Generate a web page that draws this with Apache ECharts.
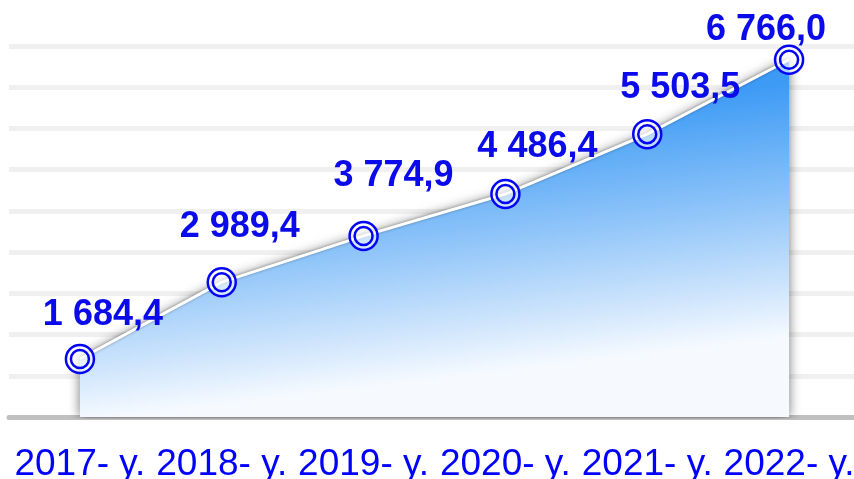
<!DOCTYPE html>
<html>
<head>
<meta charset="utf-8">
<script src="https://cdn.jsdelivr.net/npm/echarts@6/dist/echarts.min.js"></script>
<style>
  html, body { margin: 0; padding: 0; background: #fff; }
  #chart { width: 854px; height: 479px; }
</style>
</head>
<body>
<div id="chart"></div>
<script>
// categories and values
var years = ['2017- y.', '2018- y.', '2019- y.', '2020- y.', '2021- y.', '2022- y.']
var values = [1684.4, 2989.4, 3774.9, 4486.4, 5503.5, 6766.0]
var labelTexts = ['1 684,4', '2 989,4', '3 774,9', '4 486,4', '5 503,5', '6 766,0']

// label nudges [dx, dy] relative to each marker
var labelShift = [[23, -11], [18, -22], [30, -27], [32, -14], [33, -13], [-23, 4]]

var ringSymbol = 'path://M1,15a14,14 0 1,0 28,0a14,14 0 1,0 -28,0zM6,15a9,9 0 1,0 18,0a9,9 0 1,0 -18,0z'

var chart = echarts.init(document.getElementById('chart'))
chart.setOption({
  animation: false,
  grid: { left: 9, right: -6, top: 46, bottom: 62, outerBoundsMode: 'none', containLabel: false },
  xAxis: {
    type: 'category',
    data: years,
    axisTick: { show: false },
    axisLine: { lineStyle: { color: '#c0c0c0', width: 5 } },
    axisLabel: {
      interval: 0,
      margin: 29,
      fontSize: 37,
      fontFamily: 'Liberation Sans, Arial, sans-serif',
      color: '#0000ff'
    }
  },
  yAxis: {
    type: 'value',
    min: 700,
    max: 7000,
    interval: 700,
    axisLabel: { show: false },
    axisLine: { show: false },
    axisTick: { show: false },
    splitLine: { lineStyle: { color: '#f0f0f0', width: 5 } }
  },
  series: [{
    type: 'line',
    data: values.map(function (v, i) {
      return {
        value: v,
        label: { offset: labelShift[i] }
      }
    }),
    symbol: ringSymbol,
    symbolSize: 28,
    itemStyle: {
      color: 'rgba(255,255,255,0.6)',
      borderColor: '#0505f5',
      borderWidth: 2.5
    },
    lineStyle: {
      color: '#ffffff',
      width: 3,
      shadowColor: 'rgba(0,0,0,0.35)',
      shadowBlur: 3
    },
    areaStyle: {
      color: new echarts.graphic.LinearGradient(0, 0, 0.06, 1, [
        { offset: 0, color: '#3592f4' },
        { offset: 0.3, color: '#3e9bf5' },
        { offset: 0.62, color: '#8ec4f9' },
        { offset: 0.86, color: '#cfe5fc' },
        { offset: 1, color: '#f6faff' }
      ]),
      opacity: 1,
      shadowColor: 'rgba(0,0,0,0.55)',
      shadowBlur: 12
    },
    label: {
      show: true,
      position: 'top',
      distance: 0,
      fontSize: 36,
      fontWeight: 'bold',
      fontFamily: 'Liberation Sans, Arial, sans-serif',
      color: '#0a0aeb',
      formatter: function (p) { return labelTexts[p.dataIndex] }
    },
    z: 3
  }]
})
</script>
</body>
</html>
